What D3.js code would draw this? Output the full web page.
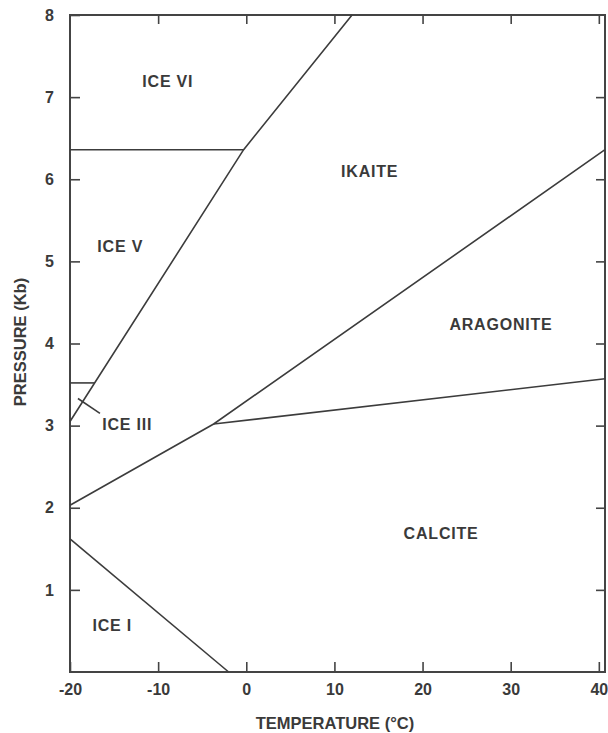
<!DOCTYPE html>
<html>
<head>
<meta charset="utf-8">
<script src="https://cdn.jsdelivr.net/npm/d3@7"></script>
<style>
  body { margin: 0; background: #fff; }
  svg text { font-family: "Liberation Sans", Arial, sans-serif; font-weight: bold; fill: #3a3a3a; }
</style>
</head>
<body>
<div id="chart"></div>
<script>
// tick values
const tempTicks = [-20, -10, 0, 10, 20, 30, 40];
const pressTicks = [1, 2, 3, 4, 5, 6, 7, 8];

// phase boundaries, [temperature °C, pressure kb]
const iceIBoundary = [[-20, 1.62], [-2.0, 0]];
const iceCarbonateBoundary = [[-20, 2.03], [-3.7, 3.02], [40.7, 6.36]];
const calciteAragoniteBoundary = [[-3.7, 3.02], [40.7, 3.57]];
const ikaiteIceBoundary = [[-20, 3.05], [-0.3, 6.36], [12.0, 8]];
const iceVVIBoundary = [[-20, 6.36], [-0.3, 6.36]];
const iceIIIVBoundary = [[-20, 3.52], [-17.2, 3.52]];
const iceIIILeader = [[-19.1, 3.33], [-16.6, 3.15]];

// field labels
const phaseNames = ["ICE VI", "IKAITE", "ICE V", "ARAGONITE", "ICE III", "CALCITE", "ICE I"];
const phaseTemps = [-8.9, 14.0, -14.3, 28.9, -13.5, 22.1, -15.2];
const phasePress = [7.19, 6.10, 5.18, 4.24, 3.02, 1.69, 0.57];

const width = 608, height = 733;
const margin = {top: 15, right: 3, bottom: 61, left: 70};

const svg = d3.select("#chart").append("svg")
    .attr("width", width)
    .attr("height", height);

const x = d3.scaleLinear()
    .domain([-20, 40.7])
    .range([margin.left, width - margin.right]);
const y = d3.scaleLinear()
    .domain([0, 8])
    .range([height - margin.bottom, margin.top]);

const axisColor = "#444";
// plain hyphen for negatives, like the original
const fmt = function (d) { return String(d); };

// frame
svg.append("rect")
    .attr("x", x(-20))
    .attr("y", y(8))
    .attr("width", x(40.7) - x(-20))
    .attr("height", y(0) - y(8))
    .attr("fill", "none")
    .attr("stroke", axisColor)
    .attr("stroke-width", 2);

function styleAxis(g) {
    g.select(".domain").remove();
    g.selectAll(".tick line").attr("stroke", axisColor).attr("stroke-width", 1.6);
    g.selectAll(".tick text").attr("font-size", "16px").attr("fill", "#3a3a3a");
}

// bottom
svg.append("g")
    .attr("transform", "translate(0," + y(0) + ")")
    .call(d3.axisBottom(x).tickValues(tempTicks).tickSize(-10).tickPadding(12).tickFormat(fmt))
    .call(styleAxis);

// top (ticks only)
svg.append("g")
    .attr("transform", "translate(0," + y(8) + ")")
    .call(d3.axisTop(x).tickValues(tempTicks.slice(1)).tickSize(-9).tickFormat(""))
    .call(styleAxis);

// left
svg.append("g")
    .attr("transform", "translate(" + x(-20) + ",0)")
    .call(d3.axisLeft(y).tickValues(pressTicks).tickSize(-10).tickPadding(16).tickFormat(fmt))
    .call(styleAxis);

// right (ticks only)
svg.append("g")
    .attr("transform", "translate(" + x(40.7) + ",0)")
    .call(d3.axisRight(y).tickValues(pressTicks.slice(0, -1)).tickSize(-9).tickFormat(""))
    .call(styleAxis);

// boundaries
const line = d3.line()
    .x(function (d) { return x(d[0]); })
    .y(function (d) { return y(d[1]); });

const boundaries = [iceIBoundary, iceCarbonateBoundary, calciteAragoniteBoundary,
    ikaiteIceBoundary, iceVVIBoundary, iceIIIVBoundary, iceIIILeader];

svg.append("g").selectAll("path")
    .data(boundaries)
    .enter().append("path")
    .attr("d", line)
    .attr("fill", "none")
    .attr("stroke", "#3c3c3c")
    .attr("stroke-width", 1.6);

// field labels
svg.append("g").selectAll("text")
    .data(phaseNames)
    .enter().append("text")
    .attr("x", function (d, i) { return x(phaseTemps[i]); })
    .attr("y", function (d, i) { return y(phasePress[i]); })
    .attr("dy", "0.36em")
    .attr("text-anchor", "middle")
    .attr("font-size", "16px")
    .attr("letter-spacing", "0.8px")
    .text(function (d) { return d; });

// axis titles
svg.append("text")
    .attr("x", 335)
    .attr("y", 729)
    .attr("text-anchor", "middle")
    .attr("font-size", "16.5px")
    .text("TEMPERATURE (°C)");

svg.append("text")
    .attr("transform", "translate(26,342) rotate(-90)")
    .attr("text-anchor", "middle")
    .attr("font-size", "16.5px")
    .text("PRESSURE (Kb)");
</script>
</body>
</html>
